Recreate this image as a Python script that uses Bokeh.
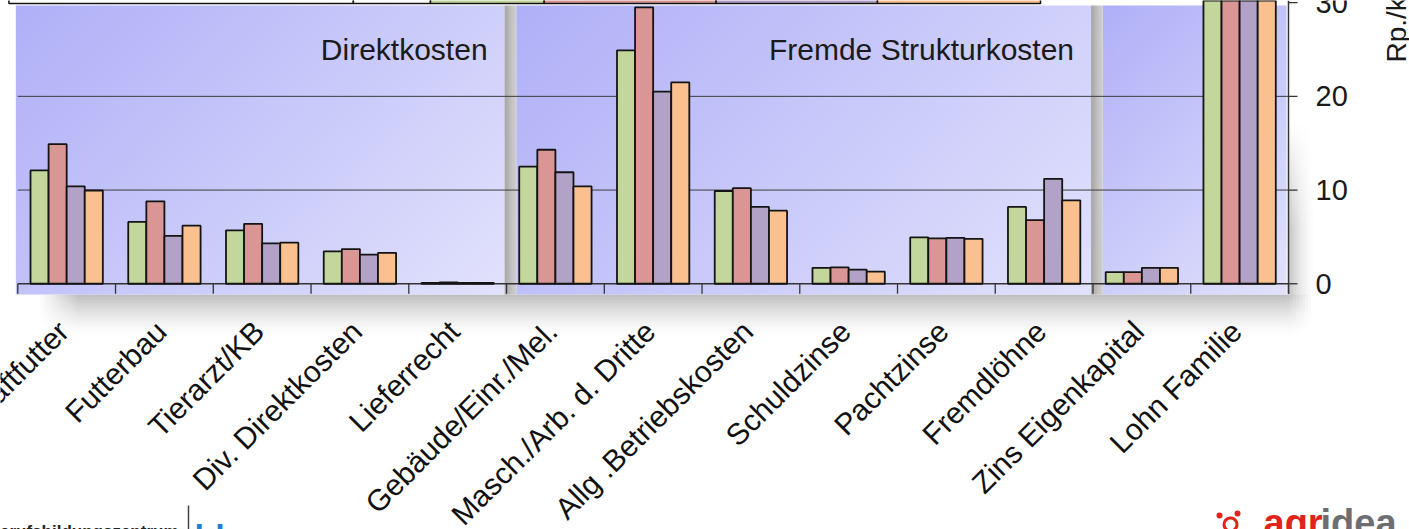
import numpy as np
from bokeh.plotting import figure
from bokeh.models import ColumnDataSource, Range1d
from bokeh.transform import dodge
from bokeh.core.properties import value
from bokeh.embed import file_html
from bokeh.resources import INLINE

# ---------------------------------------------------------------- data
categories = [
    "Kraftfutter", "Futterbau", "Tierarzt/KB", "Div. Direktkosten", "Lieferrecht",
    "Gebäude/Einr./Mel.", "Masch./Arb. d. Dritte", "Allg .Betriebskosten",
    "Schuldzinse", "Pachtzinse", "Fremdlöhne", "Zins Eigenkapital", "Lohn Familie",
]
serie_1 = [12.1, 6.6, 5.7, 3.45, 0.1, 12.5, 24.9, 9.9, 1.7, 4.95, 8.2, 1.25, 38.0]
serie_2 = [14.9, 8.8, 6.4, 3.7, 0.15, 14.3, 29.5, 10.2, 1.75, 4.85, 6.8, 1.25, 41.0]
serie_3 = [10.4, 5.1, 4.3, 3.1, 0.1, 11.9, 20.5, 8.2, 1.5, 4.9, 11.2, 1.7, 39.0]
serie_4 = [9.95, 6.2, 4.4, 3.3, 0.1, 10.4, 21.5, 7.8, 1.3, 4.8, 8.9, 1.7, 40.0]
series_colors = ["#c3d69b", "#d99694", "#b3a2c7", "#fac090"]

y_ticks = [0, 10, 20, 30]
grid_values = [10, 20]
axis_title = "Rp./kg Milch"

# cost blocks: title, first and last category index
group_titles = ["Direktkosten", "Fremde Strukturkosten", ""]
group_first = [0, 5, 11]
group_last = [4, 10, 12]

# ---------------------------------------------------------------- geometry
W, H = 1409, 529
PX_X = 97.746                     # pixels per category
PX_Y = 9.37                       # pixels per Rp. on the value axis
X_START = -0.5 - 17.3 / PX_X
X_END = X_START + W / PX_X
Y_TOP = 30.23
Y_BOTTOM = Y_TOP - H / PX_Y


def px_x(px):
    return X_START + px / PX_X


def px_y(py):
    return Y_TOP - py / PX_Y


FONT = value("Liberation Sans")


def rgba(rgb, alpha):
    ny, nx = alpha.shape
    img = np.zeros((ny, nx), dtype=np.uint32)
    view = img.view(dtype=np.uint8).reshape((ny, nx, 4))
    view[..., :3] = np.clip(rgb, 0, 255).astype(np.uint8)
    view[..., 3] = np.clip(alpha, 0, 255).astype(np.uint8)
    return img


def diagonal_gradient(w_px, h_px, c0, c1, step=2.0):
    nx = max(2, int(w_px / step))
    ny = max(2, int(h_px / step))
    u = np.linspace(0, w_px, nx)[None, :]
    v = np.linspace(h_px, 0, ny)[:, None]          # row 0 is the bottom row
    t = (u + v) / (w_px + h_px)
    c0 = np.array(c0, float)
    c1 = np.array(c1, float)
    rgb = c0 + (c1 - c0) * t[..., None]
    return rgba(rgb, np.full((ny, nx), 255.0))


p = figure(
    width=W, height=H,
    x_range=Range1d(X_START, X_END), y_range=Range1d(Y_BOTTOM, Y_TOP),
    output_backend="svg", toolbar_location=None,
    x_axis_location=None, y_axis_location=None,
    min_border=0,
)
p.outline_line_color = None
p.grid.visible = False
p.background_fill_color = "white"
p.border_fill_color = "white"

x_lo, x_hi = -0.5, len(categories) - 0.5

# ---------------------------------------------------------------- panels behind the bars
panel_top = px_y(5)
panel_bottom = px_y(294)
panel_left, panel_right = [], []
for k, (a, b) in enumerate(zip(group_first, group_last)):
    panel_left.append(a - 0.5 + (0.1 if k > 0 else -0.02))
    panel_right.append(b + 0.5 - 0.02)

# soft drop shadow under the panels
sh_left, sh_right = -0.5 + 0.2, x_hi + 0.25
sh_top, sh_bottom = panel_bottom, px_y(338)
sw = (sh_right - sh_left) * PX_X
shh = (sh_top - sh_bottom) * PX_Y
nx, ny = int(sw / 3), int(shh / 1.5)
d = np.linspace(1, 0, ny)[:, None]                  # 0 at the panel edge
xs = np.linspace(0, sw, nx)[None, :]
alpha = 125 * (1 - d) ** 1.5 * np.clip(xs / 40.0, 0, 1) * np.clip((sw - xs) / 25.0, 0, 1)
p.image_rgba(image=[rgba(np.full((ny, nx, 3), 125.0), alpha)],
             x=sh_left, y=sh_bottom, dw=sh_right - sh_left, dh=sh_top - sh_bottom,
             level="image")

# shadow to the right of the last panel
rs_left, rs_right = x_hi, x_hi + 28 / PX_X
rs_top, rs_bottom = px_y(120), panel_bottom
rw = (rs_right - rs_left) * PX_X
rh = (rs_top - rs_bottom) * PX_Y
nx, ny = max(2, int(rw / 1.5)), int(rh / 3)
fx = np.linspace(0, 1, nx)[None, :]
fy = np.linspace(1, 0, ny)[:, None]                 # 1 at the bottom row
alpha = 110 * (1 - fx) ** 1.6 * np.clip(fy * 1.6, 0, 1)
p.image_rgba(image=[rgba(np.full((ny, nx, 3), 125.0), alpha)],
             x=rs_left, y=rs_bottom, dw=rs_right - rs_left, dh=rs_top - rs_bottom,
             level="image")

for left, right in zip(panel_left, panel_right):
    w_px = (right - left) * PX_X
    h_px = (panel_top - panel_bottom) * PX_Y
    p.image_rgba(image=[diagonal_gradient(w_px, h_px, (176, 176, 248), (226, 226, 253))],
                 x=left, y=panel_bottom, dw=right - left, dh=panel_top - panel_bottom,
                 level="image")

# grey shadow bands between the panels
for k in range(1, len(panel_left)):
    left, right = panel_right[k - 1], panel_left[k]
    w_px = (right - left) * PX_X
    nx, ny = max(2, int(w_px)), 2
    t = np.linspace(0, 1, nx)[None, :, None]
    rgb = np.broadcast_to(168 + 45 * t, (ny, nx, 3))
    p.image_rgba(image=[rgba(rgb, np.full((ny, nx), 255.0))],
                 x=left, y=panel_bottom, dw=right - left, dh=panel_top - panel_bottom,
                 level="image")

# ---------------------------------------------------------------- grid, axis lines, ticks
tick_len = 10 / PX_Y
p.segment(x0=[x_lo] * len(grid_values), x1=[x_hi] * len(grid_values),
          y0=grid_values, y1=grid_values, line_color="#3c3c3c", line_width=1)

bounds = [k - 0.5 for k in range(len(categories) + 1)]
p.segment(x0=bounds, x1=bounds, y0=[0] * len(bounds), y1=[-tick_len] * len(bounds),
          line_color="#333333", line_width=1.3)
p.segment(x0=[x_lo], x1=[x_hi], y0=[0], y1=[0], line_color="#333333", line_width=1.5)

# value axis on the right
p.segment(x0=[x_hi], x1=[x_hi], y0=[-tick_len], y1=[Y_TOP], line_color="#333333",
          line_width=1.5)
p.segment(x0=[x_hi] * len(y_ticks), x1=[x_hi + 9 / PX_X] * len(y_ticks),
          y0=y_ticks, y1=y_ticks, line_color="#333333", line_width=1.3)
p.text(x=[x_hi + 27 / PX_X] * len(y_ticks), y=y_ticks, text=[str(t) for t in y_ticks],
       text_align="left", text_baseline="middle",
       text_font=FONT, text_font_size="29px", text_color="#1a1a1a")
p.text(x=[px_x(1396)], y=[px_y(62)], text=[axis_title], angle=np.pi / 2,
       text_align="left", text_baseline="alphabetic",
       text_font=FONT, text_font_size="28px", text_color="#1a1a1a")

# ---------------------------------------------------------------- bars
src = ColumnDataSource(dict(
    x=list(range(len(categories))), cat=categories,
    s1=serie_1, s2=serie_2, s3=serie_3, s4=serie_4,
))
bar_w = 0.185
offsets = [-1.5 * bar_w, -0.5 * bar_w, 0.5 * bar_w, 1.5 * bar_w]
for col, off, color in zip(["s1", "s2", "s3", "s4"], offsets, series_colors):
    p.vbar(x=dodge("x", off), top=col, bottom=0, width=bar_w, source=src,
           fill_color=color, line_color="#141414", line_width=1.8)

# ---------------------------------------------------------------- legend strip along the top
legend_edges = [-0.591, 2.933, 3.722, 4.885, 6.644, 8.295, 9.963]
legend_fill = ["white", "white"] + series_colors
p.quad(left=legend_edges[:-1], right=legend_edges[1:],
       bottom=px_y(3), top=Y_TOP + 1, fill_color=legend_fill,
       line_color="#141414", line_width=1.5)

# ---------------------------------------------------------------- category and block labels
p.text(x="x", y=px_y(314), text="cat", source=src, angle=np.pi / 4,
       x_offset=-15, text_align="right", text_baseline="top",
       text_font=FONT, text_font_size="30px", text_color="#111111")

p.text(x=panel_right, y=px_y(49.3), text=group_titles, x_offset=-17,
       text_align="right", text_baseline="alphabetic",
       text_font=FONT, text_font_size="30px", text_color="#1a1a1a")

# ---------------------------------------------------------------- logos in the footer
p.text(x=[px_x(178)], y=[px_y(531)], text=["Berufsbildungszentrum"],
       text_align="right", text_baseline="alphabetic", text_font=FONT,
       text_font_style="bold", text_font_size="17px", text_color="#222222")
p.segment(x0=[px_x(188)], x1=[px_x(188)], y0=[px_y(505)], y1=[px_y(535)],
          line_color="#444444", line_width=1.5)
p.text(x=[px_x(194)], y=[px_y(516)], text=["bbzn"],
       text_align="left", text_baseline="top", text_font=FONT,
       text_font_style="bold", text_font_size="34px", text_color="#1f7fd1")

red = "#e2231a"
p.scatter(x=[px_x(1219), px_x(1237)], y=[px_y(515), px_y(513)], size=6,
          marker="circle", fill_color=red, line_color=None)
p.scatter(x=[px_x(1230)], y=[px_y(524)], size=13, marker="circle",
          fill_color=None, line_color=red, line_width=3)
p.text(x=[px_x(1263)], y=[px_y(501)], text=["agr"],
       text_align="left", text_baseline="top", text_font=FONT,
       text_font_style="bold", text_font_size="38px", text_color=red)
p.text(x=[px_x(1320)], y=[px_y(501)], text=["idea"],
       text_align="left", text_baseline="top", text_font=FONT,
       text_font_style="bold", text_font_size="38px", text_color="#6d6e71")

open("out.html", "w").write(file_html(p, INLINE))
